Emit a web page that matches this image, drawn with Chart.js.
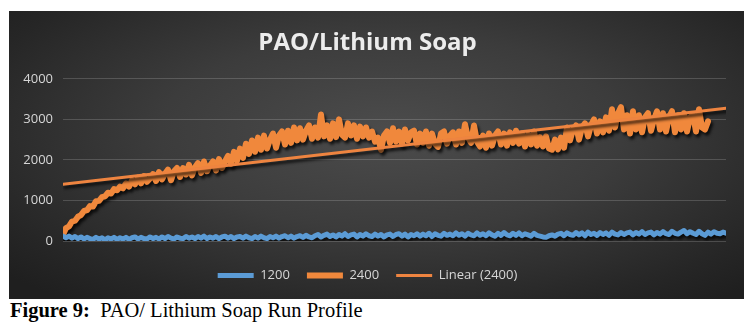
<!DOCTYPE html>
<html>
<head>
<meta charset="utf-8">
<script src="https://cdn.jsdelivr.net/npm/chart.js@4"></script>
<style>
  body { margin: 0; background: #fff; width: 749px; height: 327px; position: relative; overflow: hidden; }
  #panel {
    position: absolute; left: 9px; top: 11px; width: 735px; height: 288px;
    background: radial-gradient(ellipse 70% 75% at 52% 42%, #4c4c4c 0%, #3c3c3c 45%, #262626 85%, #1f1f1f 100%);
  }
  #caption {
    position: absolute; left: 10px; top: 299px;
    font-family: "Liberation Serif", "Times New Roman", serif; font-size: 20.5px; color: #000;
    white-space: pre;
  }
</style>
</head>
<body>
<div id="panel"><canvas id="myChart" width="735" height="288"></canvas></div>
<div id="caption"><b>Figure 9:</b>  PAO/ Lithium Soap Run Profile</div>
<script>
var titleText = 'PAO/Lithium Soap';
var seriesNames = ['1200', '2400', 'Linear (2400)'];
var yTicks = [0, 1000, 2000, 3000, 4000];

// readings, one every ~3px along the run
var run1200 = [
  120, 80, 120, 70, 110, 60, 100, 50, 90, 60,
  40, 90, 50, 80, 30, 80, 50, 90, 40, 80,
  50, 90, 40, 80, 100, 50, 90, 60, 50, 100,
  60, 90, 50, 100, 60, 110, 70, 50, 100, 70,
  60, 110, 70, 100, 60, 110, 70, 120, 60, 100,
  70, 110, 60, 100, 120, 70, 110, 60, 100, 110,
  70, 120, 80, 60, 110, 70, 120, 80, 60, 110,
  80, 120, 70, 110, 130, 80, 120, 70, 110, 130,
  90, 140, 100, 80, 130, 160, 100, 140, 170, 110,
  150, 100, 160, 120, 180, 110, 150, 170, 100, 160,
  120, 180, 130, 110, 170, 120, 160, 100, 150, 170,
  110, 160, 180, 120, 170, 100, 160, 130, 180, 120,
  170, 130, 190, 110, 180, 140, 120, 190, 140, 170,
  130, 200, 140, 180, 120, 190, 150, 130, 200, 140,
  180, 130, 200, 150, 120, 190, 140, 210, 150, 130,
  190, 140, 200, 130, 180, 150, 120, 190, 140, 120,
  100, 90, 130, 150, 120, 170, 190, 130, 200, 160,
  140, 210, 150, 200, 130, 220, 160, 190, 140, 210,
  160, 200, 140, 220, 170, 150, 210, 160, 200, 220,
  150, 210, 170, 230, 160, 200, 220, 150, 210, 170,
  230, 180, 160, 240, 190, 170, 220, 260, 180, 230,
  190, 160, 240, 180, 140, 220, 170, 230, 190, 180,
  220, 190
];

var run2400 = [
  150, 320, 360, 480, 500, 600, 640, 740, 760, 860,
  850, 980, 990, 1080, 1100, 1190, 1170, 1280, 1250, 1340,
  1300, 1420, 1340, 1500, 1400, 1560, 1420, 1600, 1460, 1540,
  1650, 1480, 1700, 1520, 1660, 1760, 1500, 1720, 1800, 1580,
  1800, 1640, 1880, 1620, 1820, 1920, 1680, 1960, 1720, 1860,
  1960, 1740, 2020, 1800, 1960, 2100, 1900, 2200, 1980, 2280,
  2050, 2400, 2150, 2480, 2200, 2550, 2250, 2600, 2280, 2500,
  2650, 2300, 2600, 2700, 2380, 2720, 2420, 2800, 2480, 2780,
  2500, 2720, 2850, 2520, 2800, 2550, 3120, 2580, 2850, 2520,
  2900, 2560, 3000, 2620, 2550, 2900, 2600, 2850, 2520, 2820,
  2580, 2800, 2550, 2700, 2450, 2550, 2250, 2600, 2700, 2420,
  2780, 2450, 2700, 2400, 2750, 2480, 2680, 2720, 2380, 2650,
  2420, 2700, 2350, 2650, 2400, 2320, 2650, 2700, 2400, 2600,
  2680, 2380, 2700, 2420, 2880, 2550, 2420, 2850, 2450, 2330,
  2600, 2300, 2650, 2350, 2600, 2700, 2380, 2650, 2350, 2680,
  2420, 2720, 2400, 2650, 2330, 2620, 2380, 2700, 2350, 2560,
  2330, 2580, 2280, 2250, 2500, 2260, 2550, 2300, 2800, 2480,
  2750, 2850, 2500, 2800, 2900, 2580, 2850, 3000, 2650, 2950,
  2680, 3050, 2720, 3250, 2800, 3150, 3300, 2750, 3100, 2650,
  3200, 2750, 3100, 2680, 3050, 3150, 2720, 3000, 3200, 2750,
  3150, 2700, 3050, 3200, 2680, 3100, 2750, 3150, 2700, 3050,
  3100, 2700, 3250, 2800, 2750, 2950
];

// trendline end values
var linearEnds = [1400, 3275];

function toPoints(arr) {
  return arr.map(function (v, i) { return {x: i, y: v}; });
}

var lastX = run1200.length - 1;

// drop shadow under the lines, like the office chart style
var shadowPlugin = {
  id: 'lineShadow',
  beforeDatasetsDraw: function (chart) {
    var c = chart.ctx;
    c.save();
    c.shadowColor = 'rgba(0,0,0,0.75)';
    c.shadowBlur = 3;
    c.shadowOffsetX = 2;
    c.shadowOffsetY = 3;
  },
  afterDatasetsDraw: function (chart) {
    chart.ctx.restore();
  }
};

var ctx = document.getElementById('myChart').getContext('2d');
var chart = new Chart(ctx, {
  type: 'line',
  data: {
    datasets: [{
      label: seriesNames[0],
      data: toPoints(run1200),
      borderColor: '#5b9bd5',
      backgroundColor: '#5b9bd5',
      borderWidth: 5,
      order: 1
    }, {
      label: seriesNames[1],
      data: toPoints(run2400),
      borderColor: '#f0883c',
      backgroundColor: '#f0883c',
      borderWidth: 6,
      order: 2
    }, {
      label: seriesNames[2],
      data: [{x: 0, y: linearEnds[0]}, {x: lastX, y: linearEnds[1]}],
      borderColor: '#ee8440',
      backgroundColor: '#ee8440',
      borderWidth: 3,
      order: 0
    }]
  },
  options: {
    responsive: false,
    animation: false,
    events: [],
    elements: {
      point: { radius: 0 },
      line: { tension: 0, borderJoinStyle: 'round', borderCapStyle: 'round' }
    },
    layout: { padding: { left: 0, right: 18, top: 0, bottom: 7 } },
    scales: {
      x: {
        type: 'linear', min: 0, max: lastX,
        grid: { display: false }, border: { display: false },
        ticks: { display: false },
        afterFit: function (s) { s.height = 11; }
      },
      y: {
        min: 0, max: 4000,
        afterBuildTicks: function (s) { s.ticks = yTicks.map(function (v) { return {value: v}; }); },
        grid: { color: 'rgba(255,255,255,0.17)', lineWidth: 1, drawTicks: false },
        border: { display: false },
        ticks: {
          color: '#d6d6d6', padding: 10, font: { family: 'Open Sans', size: 13 },
          callback: function (v) { return String(v); }
        },
        afterFit: function (s) { s.width = 54; }
      }
    },
    plugins: {
      title: {
        display: true, text: titleText, color: '#ececec',
        font: { family: 'Open Sans', size: 24, weight: 'bold' },
        padding: { top: 18, bottom: 21 }
      },
      legend: {
        position: 'bottom',
        labels: {
          color: '#d6d6d6', font: { family: 'Open Sans', size: 13 },
          usePointStyle: true, pointStyle: 'line', pointStyleWidth: 36, padding: 17,
          sort: function (a, b) { return a.datasetIndex - b.datasetIndex; }
        }
      },
      tooltip: { enabled: false }
    }
  },
  plugins: [shadowPlugin]
});
</script>
</body>
</html>
